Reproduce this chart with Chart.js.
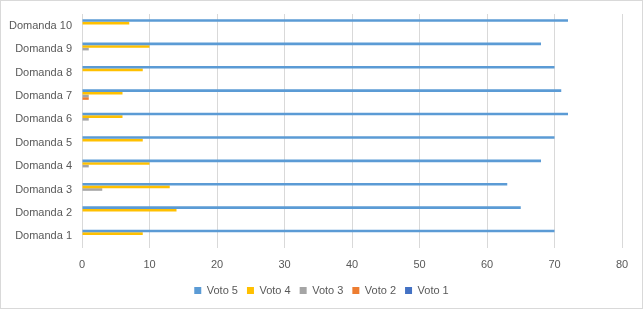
<!DOCTYPE html>
<html>
<head>
<meta charset="utf-8">
<script src="https://cdn.jsdelivr.net/npm/chart.js@4"></script>
<style>
  html, body { margin: 0; padding: 0; background: #fff; }
  #box { width: 643px; height: 309px; box-sizing: border-box; border: 1px solid #d9d9d9; }
</style>
</head>
<body>
<div id="box"><canvas id="grafico"></canvas></div>
<script>
const categories = ['Domanda 1', 'Domanda 2', 'Domanda 3', 'Domanda 4', 'Domanda 5',
  'Domanda 6', 'Domanda 7', 'Domanda 8', 'Domanda 9', 'Domanda 10'];

const voto5 = [70, 65, 63, 68, 70, 72, 71, 70, 68, 72];
const voto4 = [9, 14, 13, 10, 9, 6, 6, 9, 10, 7];
const voto3 = [0, 0, 3, 1, 0, 1, 1, 0, 1, 0];
const voto2 = [0, 0, 0, 0, 0, 0, 1, 0, 0, 0];
const voto1 = [0, 0, 0, 0, 0, 0, 0, 0, 0, 0];

const xTicks = [0, 10, 20, 30, 40, 50, 60, 70, 80];

const ctx = document.getElementById('grafico');
const fonte = { family: 'Liberation Sans', size: 11 };

const data = {
  labels: categories,
  datasets: [
    { label: 'Voto 5', data: voto5, backgroundColor: '#5B9BD5' },
    { label: 'Voto 4', data: voto4, backgroundColor: '#FFC000' },
    { label: 'Voto 3', data: voto3, backgroundColor: '#A5A5A5' },
    { label: 'Voto 2', data: voto2, backgroundColor: '#ED7D31' },
    { label: 'Voto 1', data: voto1, backgroundColor: '#4472C4' }
  ]
};

const config = {
  type: 'bar',
  data: data,
  options: {
    indexAxis: 'y',
    responsive: true,
    maintainAspectRatio: false,
    animation: false,
    categoryPercentage: 0.56,
    barPercentage: 1.0,
    layout: { padding: { top: 13, right: 0, left: 0, bottom: 2 } },
    scales: {
      x: {
        min: xTicks[0],
        max: xTicks[xTicks.length - 1],
        ticks: { stepSize: 10, color: '#595959', font: fonte, padding: 10 },
        grid: { color: '#d9d9d9', drawTicks: false },
        border: { display: false },
        afterFit: function (scale) {
          scale.height = 28;
          scale.paddingRight = 20;
        }
      },
      y: {
        reverse: true,
        ticks: { color: '#595959', font: fonte, padding: 10 },
        grid: { display: false, drawTicks: false },
        border: { display: false },
        afterFit: function (scale) {
          scale.width = 81;
          scale.paddingTop = 0;
          scale.paddingBottom = 0;
        }
      }
    },
    plugins: {
      legend: {
        position: 'bottom',
        labels: {
          boxWidth: 7,
          boxHeight: 7,
          padding: 9,
          color: '#595959',
          font: fonte
        }
      },
      tooltip: { enabled: false }
    }
  }
};

new Chart(ctx, config);
</script>
</body>
</html>
